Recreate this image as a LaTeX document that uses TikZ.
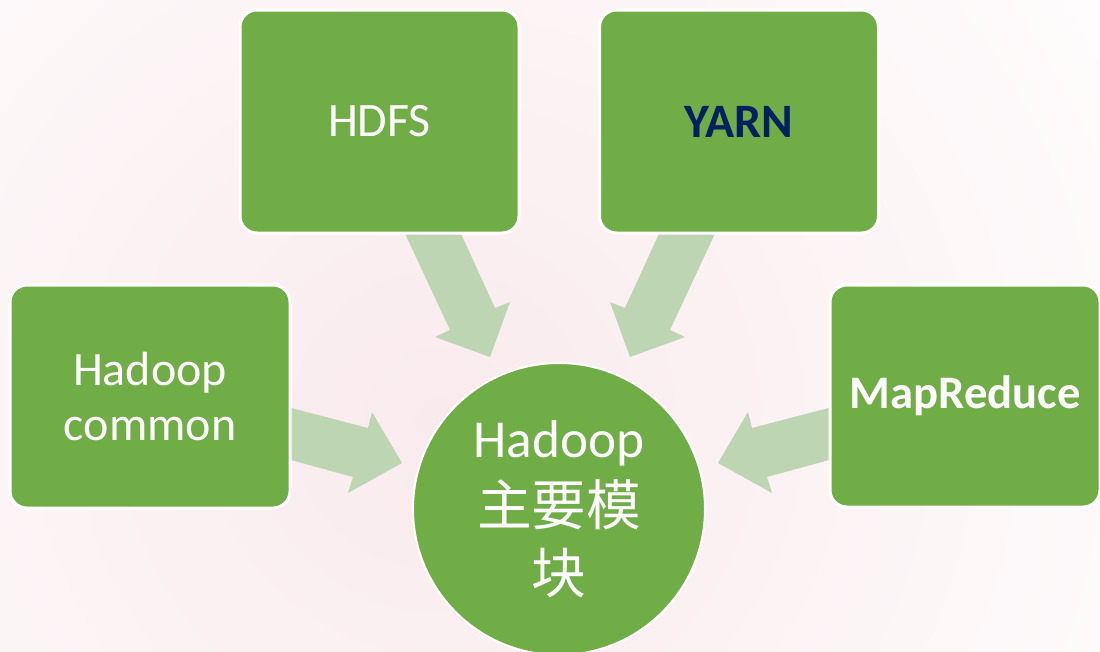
\documentclass[tikz,border=0pt]{standalone}
\usepackage{fontspec}
\setmainfont{Carlito}
\newfontfamily\cjkfont{Noto Sans CJK SC}
\definecolor{boxgreen}{RGB}{112,173,71}
\definecolor{arrowgreen}{RGB}{189,213,178}
\definecolor{navy}{RGB}{0,32,96}
\definecolor{bgpink}{RGB}{249,234,237}
\tikzset{
  module/.style={rectangle, rounded corners=12.75pt, fill=boxgreen, draw=white,
    line width=2.25pt, minimum width=209.25pt, minimum height=167.25pt,
    text=white, font=\fontsize{36}{41}\selectfont, align=center, inner sep=0pt},
  hub/.style={circle, fill=boxgreen, draw=white, line width=1.5pt,
    minimum size=219pt, inner sep=0pt, text=white, align=center,
    font=\fontsize{41}{51}\selectfont},
  blockarrow/.style={fill=arrowgreen, draw=none}
}
\begin{document}
\begin{tikzpicture}[x=0.75pt, y=-0.75pt]
\useasboundingbox (0,0) rectangle (1100,651);
\clip (0,0) rectangle (1100,651);
% faint background tint
\shade[inner color=bgpink, outer color=white] (440,420) circle [radius=900];
% arrow polygons (behind boxes)
\fill[blockarrow] (280,405) -- (368,428) -- (372,412) -- (402,463) -- (348,493) -- (353,477) -- (280,457) -- cycle;
\fill[blockarrow] (840,405) -- (752,428) -- (748,412) -- (718,463) -- (772,493) -- (767,477) -- (840,457) -- cycle;
\fill[blockarrow] (401,225) -- (457,225) -- (495,308) -- (510,302) -- (490,357) -- (435,337) -- (450,330) -- cycle;
\fill[blockarrow] (719,225) -- (663,225) -- (625,308) -- (610,302) -- (630,357) -- (685,337) -- (670,330) -- cycle;
% modules
\node[module] (hdfs) at (379.5,121.5) {HDFS};
\node[module, text=navy, font=\fontsize{36}{41}\selectfont\bfseries] (yarn) at (739,121.5) {YARN};
\node[module, minimum width=210pt] (common) at (150,396.5) {Hadoop\\common};
\node[module, minimum width=202.5pt, minimum height=166.5pt, font=\fontsize{35}{41}\selectfont\bfseries] (mapred) at (965,396) {MapReduce};
\node[hub] (core) at (559,509) {{\fontsize{40}{51}\selectfont Hadoop}\\{\cjkfont 主要模}\\{\cjkfont 块}};
\end{tikzpicture}
\end{document}
